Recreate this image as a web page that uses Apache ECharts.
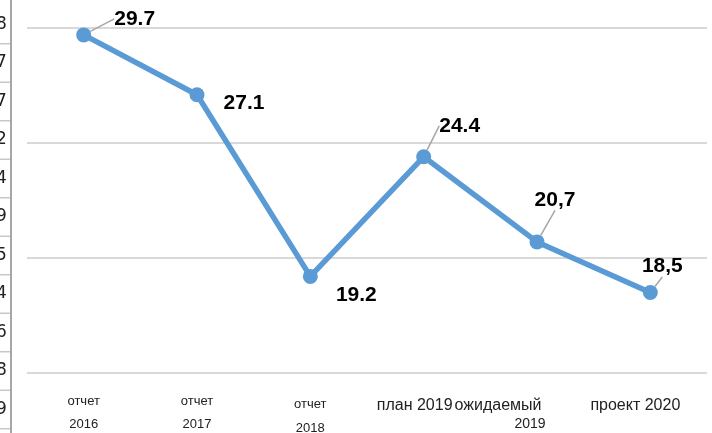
<!DOCTYPE html>
<html>
<head>
<meta charset="utf-8">
<script src="https://cdn.jsdelivr.net/npm/echarts@6/dist/echarts.min.js"></script>
<style>
  html, body { margin: 0; padding: 0; background: #fff; }
  #chart { width: 712px; height: 433px; }
</style>
</head>
<body>
<div id="chart"></div>
<script>
// categories: first line / second line of each axis label
const catLine1 = ['отчет', 'отчет', 'отчет', 'план 2019', 'ожидаемый', 'проект 2020']
const catLine2 = ['2016', '2017', '2018', '', '2019', '']
const values = [29.7, 27.1, 19.2, 24.4, 20.7, 18.5]
const valueLabels = ['29.7', '27.1', '19.2', '24.4', '20,7', '18,5']
// clipped table column on the left edge
const edgeDigits = ['8', '7', '7', '2', '4', '9', '5', '4', '6', '8', '9']

const chart = echarts.init(document.getElementById('chart'))

// label shifts from default 'top' spot, and whether a leader line is drawn
const labelShift = [[51, 7], [47, 32], [46, 42], [36, -8], [18, -19], [12, -3]]
const leader = [true, false, false, true, true, true]

const smallCat = [true, true, true, false, false, false]

const edgeGraphics = []
edgeDigits.forEach((d, i) => {
  edgeGraphics.push({
    type: 'text',
    left: -4,
    top: 16 + i * 38.5,
    style: { text: d, font: '17px "DejaVu Sans", sans-serif', fill: '#222' }
  })
  edgeGraphics.push({
    type: 'rect',
    shape: { x: 0, y: 43 + i * 38.5, width: 10, height: 1.5 },
    style: { fill: '#c8c8c8' }
  })
})
edgeGraphics.push({
  type: 'rect',
  shape: { x: 10, y: 0, width: 2, height: 433 },
  style: { fill: '#a6a6a6' }
})

chart.setOption({
  animation: false,
  textStyle: { fontFamily: '"Liberation Sans", Arial, sans-serif' },
  grid: { left: 27, right: 5, top: 28, bottom: 60, outerBoundsMode: 'none', containLabel: false },
  xAxis: {
    type: 'category',
    data: catLine1.map((c, i) => catLine2[i] ? c + '\n' + catLine2[i] : c),
    axisLine: { show: false },
    axisTick: { show: false },
    axisLabel: {
      interval: 0,
      margin: 17,
      color: '#222',
      hideOverlap: false,
      formatter (v, i) {
        const parts = v.split('\n')
        if (smallCat[i]) {
          return parts.map(p => '{s' + (i === 2 ? 'd' : '') + '|' + p + '}').join('\n')
        }
        if (i === 4) return '{w|' + parts[0] + '}\n{y|' + parts[1] + '}'
        if (i === 3) return '{p|' + parts[0] + '}'
        return '{r|' + parts[0] + '}'
      },
      rich: {
        s: { fontSize: 13, lineHeight: 23, color: '#222' },
        sd: { fontSize: 13, lineHeight: 24, color: '#222', padding: [5, 0, 0, 0] },
        p: { fontSize: 16, lineHeight: 24, color: '#222', padding: [7, 18, 0, 0] },
        w: { fontSize: 16, lineHeight: 24, color: '#222', padding: [7, 78, 0, 0] },
        y: { fontSize: 14, lineHeight: 20, color: '#222', padding: [0, 14, 0, 0] },
        r: { fontSize: 16, lineHeight: 24, color: '#222', padding: [7, 30, 0, 0] }
      }
    }
  },
  yAxis: {
    type: 'value',
    min: 15,
    max: 30,
    interval: 5,
    axisLabel: { show: false },
    axisLine: { show: false },
    axisTick: { show: false },
    splitLine: { lineStyle: { color: '#d9d9d9', width: 2 } }
  },
  series: [
    {
      type: 'line',
      data: values.map((v, i) => ({
        value: v,
        labelLine: { show: leader[i] }
      })),
      symbol: 'circle',
      symbolSize: 15,
      lineStyle: { color: '#5b9bd5', width: 5.5 },
      itemStyle: { color: '#5b9bd5' },
      label: {
        show: true,
        position: 'top',
        distance: 5,
        fontSize: 21,
        fontWeight: 'bold',
        color: '#000',
        formatter: p => valueLabels[p.dataIndex]
      },
      labelLine: {
        show: true,
        lineStyle: { color: '#a6a6a6', width: 1.5 }
      },
      labelLayout (params) {
        const s = labelShift[params.dataIndex]
        return { dx: s[0], dy: s[1] }
      }
    }
  ],
  graphic: edgeGraphics
})
</script>
</body>
</html>
